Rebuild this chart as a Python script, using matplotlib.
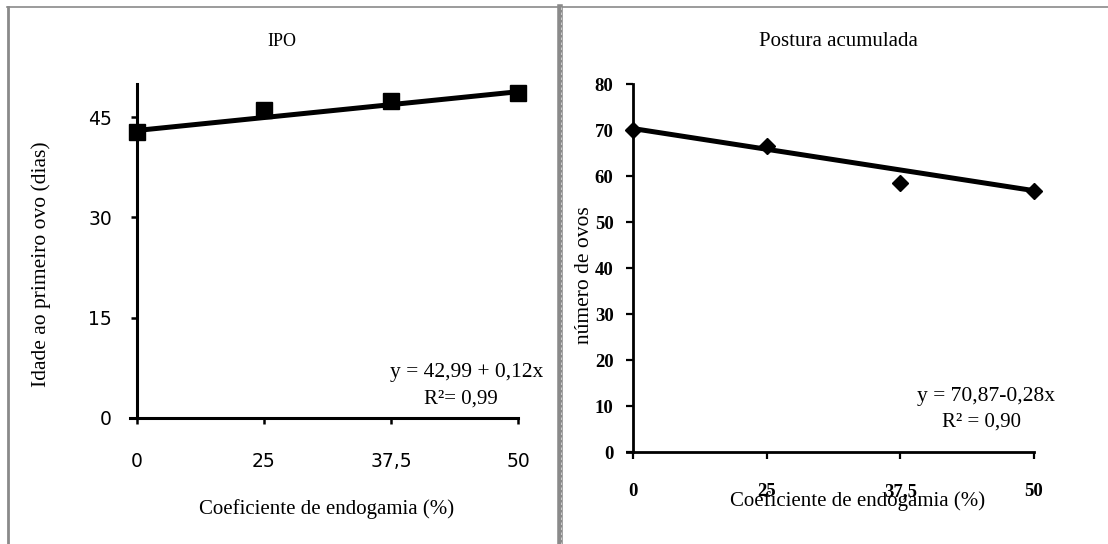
import matplotlib
matplotlib.use("Agg")
import matplotlib.pyplot as plt
from matplotlib.lines import Line2D

# data
x_labels = ['0', '25', '37,5', '50']
ipo = [42.7, 46.0, 47.4, 48.6]
ipo_trend = [43.0, 48.8]
postura = [70.0, 66.5, 58.5, 56.9]
postura_trend = [70.4, 56.9]
ipo_yticks = [0, 15, 30, 45]
postura_yticks = [0, 10, 20, 30, 40, 50, 60, 70, 80]

W, H = 1108, 544
serif = 'Liberation Serif'

fig = plt.figure(figsize=(W / 100, H / 100), dpi=100)


def px_axes(left, top, right, bottom):
    return fig.add_axes([left / W, 1 - bottom / H, (right - left) / W, (bottom - top) / H])


def fig_text(x, y, s, **kw):
    fig.text(x / W, 1 - y / H, s, **kw)


# ---- left panel: IPO
xpos = list(range(len(x_labels)))
ax1 = px_axes(130, 83.7, 518, 417.7)
ax1.plot(xpos, ipo, 's', color='black', markersize=11.5, clip_on=False, zorder=3)
ax1.plot([xpos[0], xpos[-1]], ipo_trend, '-', color='black', lw=3.6,
         solid_capstyle='butt', clip_on=False)
ax1.set_xlim(-0.055, 3)
ax1.set_ylim(0, 50)
ax1.set_xticks(xpos)
ax1.set_xticklabels(x_labels)
ax1.set_yticks(ipo_yticks)
for s in ['top', 'right']:
    ax1.spines[s].set_visible(False)
ax1.spines['left'].set_position(('data', 0))
ax1.spines['left'].set_linewidth(2.2)
ax1.spines['bottom'].set_linewidth(2.2)
ax1.tick_params(axis='y', length=4.5, width=1.8, pad=13.5, labelsize=13.5)
ax1.tick_params(axis='x', length=4, width=1.8, pad=21, labelsize=13.5)
ax1.patch.set_visible(False)

fig_text(282, 41, 'IPO', ha='center', va='center', family=serif, fontsize=13)
fig_text(41, 264, 'Idade ao primeiro ovo (dias)', ha='center', va='center',
         rotation=90, family=serif, fontsize=15.5)
fig_text(327, 509, 'Coeficiente de endogamia (%)', ha='center', va='center',
         family=serif, fontsize=15)
fig_text(543, 373, 'y = 42,99 + 0,12x', ha='right', va='center', family=serif, fontsize=15.5)
fig_text(461, 399, 'R²= 0,99', ha='center', va='center', family=serif, fontsize=15)

# ---- right panel: Postura acumulada
ax2 = px_axes(626.5, 84.4, 1034, 452.4)
ax2.plot(xpos, postura, 'D', color='black', markersize=8.5, clip_on=False, zorder=3)
ax2.plot([xpos[0], xpos[-1]], postura_trend, '-', color='black', lw=3.6,
         solid_capstyle='butt', clip_on=False)
ax2.set_xlim(-0.049, 3)
ax2.set_ylim(0, 80)
ax2.set_xticks(xpos)
ax2.set_xticklabels(x_labels)
ax2.set_yticks(postura_yticks)
for s in ['top', 'right']:
    ax2.spines[s].set_visible(False)
ax2.spines['left'].set_position(('data', 0))
ax2.spines['left'].set_linewidth(2)
ax2.spines['bottom'].set_linewidth(2)
ax2.tick_params(axis='y', length=5, width=1.6, pad=9, labelsize=13.5)
ax2.tick_params(axis='x', length=5, width=1.6, pad=17, labelsize=13.5)
for lab in ax2.get_xticklabels() + ax2.get_yticklabels():
    lab.set_family(serif)
    lab.set_fontweight('bold')
ax2.patch.set_visible(False)

fig_text(838, 41, 'Postura acumulada', ha='center', va='center', family=serif, fontsize=15)
fig_text(584, 275, 'número de ovos', ha='center', va='center', rotation=90,
         family=serif, fontsize=15.5)
fig_text(858, 501, 'Coeficiente de endogamia (%)', ha='center', va='center',
         family=serif, fontsize=15)
fig_text(1055, 396, 'y = 70,87-0,28x', ha='right', va='center', family=serif, fontsize=15.5)
fig_text(982, 422, 'R² = 0,90', ha='center', va='center', family=serif, fontsize=15)

# ---- page borders
def px_line(x0, y0, x1, y1, **kw):
    fig.add_artist(Line2D([x0 / W, x1 / W], [1 - y0 / H, 1 - y1 / H],
                          transform=fig.transFigure, **kw))


px_line(7, 7.3, W, 7.3, color='#8a8a8a', lw=1.2)
px_line(8.4, 7, 8.4, H, color='#8a8a8a', lw=2)
px_line(560.3, 7, 560.3, H, color='#8a8a8a', lw=4)
px_line(561, 7, 561, H, color='#d8d8d8', lw=0.6, ls=(0, (3, 3)))

fig.savefig('out.png', dpi=100)
